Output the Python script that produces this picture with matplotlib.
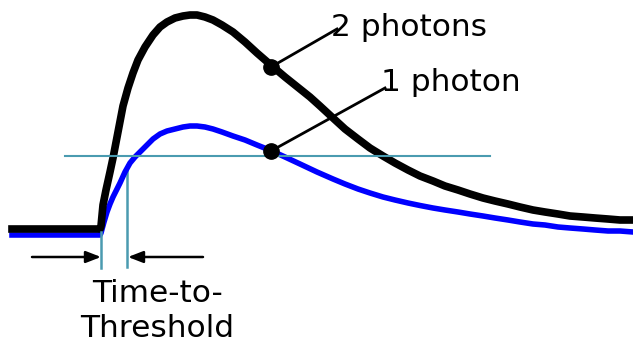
import matplotlib.pyplot as plt

# 펄스 파형 (x: 시간, y: 진폭 - 화면 좌표처럼 아래로 갈수록 큰 값, y축을 뒤집어서 그림)
t_two = [12, 100, 101, 103, 106, 110, 113, 118, 123, 128, 133, 138, 145, 153, 160, 167,
         175, 183, 190, 197, 205, 213, 222, 233, 245, 257, 272, 285, 300, 310, 320, 333,
         345, 358, 370, 383, 395, 408, 420, 433, 445, 458, 470, 483, 495, 508, 520, 533,
         545, 558, 570, 583, 595, 608, 620, 633]
y_two = [229, 229, 226, 205, 190, 172, 158, 132, 106, 88, 73, 60, 47, 35, 27, 22,
         18, 16, 15, 15, 17, 20, 25, 32, 42, 53, 66, 77, 89, 97, 106, 118,
         129, 139, 148, 156, 163, 170, 176, 181, 186, 190, 194, 198, 201, 204, 207, 210,
         212, 214, 216, 217, 218, 219, 220, 220]

t_one = [12, 100, 101, 104, 107, 110, 113, 117, 120, 125, 130, 135, 140, 147, 153, 160,
         167, 175, 183, 190, 197, 205, 213, 222, 233, 245, 257, 272, 285, 300, 317, 333,
         345, 358, 370, 383, 395, 408, 420, 433, 445, 458, 470, 483, 495, 508, 520, 533,
         545, 558, 570, 583, 595, 608, 620, 633]
y_one = [235, 235, 233, 222, 212, 204, 197, 189, 183, 172, 163, 157, 152, 145, 139, 134,
         131, 129, 127, 126, 126, 127, 129, 132, 136, 140, 145, 151, 157, 164, 172, 179,
         184, 189, 193, 197, 200, 203, 205.5, 208, 210, 212, 214, 216, 218, 220, 222, 224,
         225, 227, 228, 229, 230, 231, 231, 232]

threshold = 156
t_start = 101
t_cross = 127

fig = plt.figure(figsize=(6.33, 3.45), dpi=100)
ax = fig.add_axes([0, 0, 1, 1])
ax.set_xlim(0, 633)
ax.set_ylim(345, 0)
ax.axis('off')

teal = '#4a9bb0'
font = 'DejaVu Sans'

# 파형 (노이즈는 선 두께로 표현)
ax.plot(t_one, y_one, color='#0000ff', lw=4, solid_joinstyle='round', zorder=2)
ax.plot(t_two, y_two, color='black', lw=5.5, solid_joinstyle='round', zorder=3)

# 문턱값 선
ax.plot([65, 490], [threshold, threshold], color=teal, lw=1.5, zorder=4)
ax.plot([t_start, t_start], [232, 268], color=teal, lw=1.8, zorder=4)
ax.plot([t_cross, t_cross], [165, 267], color=teal, lw=1.8, zorder=1)

# 화살표
arrow = dict(arrowstyle='-|>,head_length=0.9,head_width=0.35', color='black', lw=1.8,
             shrinkA=0, shrinkB=0)
ax.annotate('', xy=(t_start, 257), xytext=(32, 257), arrowprops=arrow)
ax.annotate('', xy=(t_cross + 1, 257), xytext=(203, 257), arrowprops=arrow)

ax.text(158, 302, 'Time-to-', fontsize=22.5, ha='center', va='baseline', family=font)
ax.text(157, 337, 'Threshold', fontsize=22.5, ha='center', va='baseline', family=font)

# 라벨과 지시선
ax.plot([271, 337], [67, 29], color='black', lw=2, zorder=5)
ax.plot([271, 385], [151, 88], color='black', lw=2, zorder=5)
ax.plot([271], [67], 'o', color='black', ms=11, zorder=6)
ax.plot([271], [151], 'o', color='black', ms=11, zorder=6)
ax.text(331, 36, '2 photons', fontsize=22.5, ha='left', va='baseline', family=font)
ax.text(381, 91, '1 photon', fontsize=22.5, ha='left', va='baseline', family=font)

fig.savefig('out.png', dpi=100)
